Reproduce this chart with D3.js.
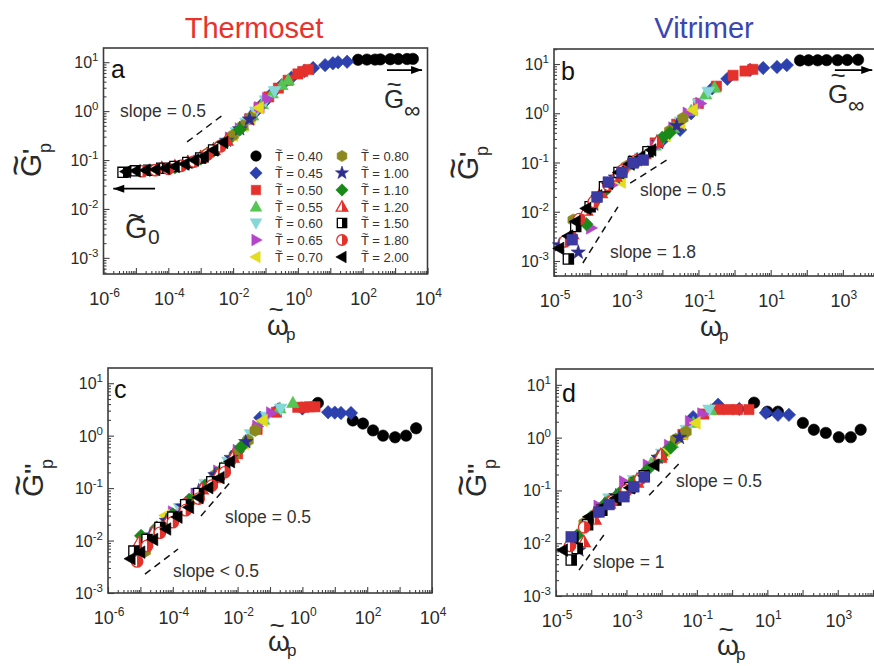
<!DOCTYPE html>
<html><head><meta charset="utf-8">
<script src="https://cdn.jsdelivr.net/npm/d3@7"></script>
<style>
body{margin:0;background:#fff}
svg{display:block}
text{font-family:"Liberation Sans",Arial,Helvetica,sans-serif}
</style>
</head><body>
<svg id="chart" width="874" height="666"></svg>
<script>
// ---------------- DATA ----------------
const temperatures = ["0.40","0.45","0.50","0.55","0.60","0.65","0.70","0.80","1.00","1.10","1.20","1.50","1.80","2.00"];
const markerShapes = ["circle","diamond","square","triUp","triDown","triRight","triLeft","hexagon","star","diamond","triUpHalf","squareHalf","circleHalf","triLeft"];
const markerColors = ["#000000","#2c41ad","#e4312b","#55c553","#85d8d8","#b444c8","#e3dc1f","#8b891d","#2e2e90","#198a1a","#e4312b","#000000","#e4312b","#000000"];

// panel a: storage modulus, thermoset  ([omega_p, G'_p] per temperature, legend order)
const storageThermoset = [
 [[72,11.2],[135,11.3],[240,11.3],[350,11.4],[710,11.5],[1260,11.6],[2340,11.6],[3550,11.7]],
 [[0.05,0.98],[0.089,1.5],[0.158,2.3],[0.316,3.4],[0.63,4.8],[1.58,6.6],[2.95,7.6],[6.9,8.7],[12,9.5],[17.4,10.0],[33,10.2]],
 [[0.032,0.68],[0.063,1.17],[0.126,1.95],[0.25,2.95],[0.5,4.27],[1.0,5.75],[1.41,6.46],[2.1,7.08]],
 [[0.02,0.5],[0.04,0.81],[0.079,1.38],[0.16,2.29],[0.32,3.39],[0.5,4.27]],
 [[0.0126,0.37],[0.025,0.58],[0.05,0.98],[0.1,1.66],[0.19,2.57]],
 [[0.0079,0.28],[0.016,0.43],[0.032,0.68],[0.063,1.17],[0.11,1.78]],
 [[0.004,0.2],[0.01,0.32],[0.02,0.5],[0.035,0.74],[0.063,1.17]],
 [[0.0016,0.135],[0.004,0.2],[0.01,0.32],[0.02,0.5],[0.035,0.74]],
 [[4e-4,0.089],[1e-3,0.112],[2.5e-3,0.162],[6.3e-3,0.25],[0.016,0.43],[0.032,0.68]],
 [[1.6e-4,0.071],[4e-4,0.085],[1e-3,0.107],[2.5e-3,0.155],[6.3e-3,0.24],[0.016,0.42]],
 [[6.3e-5,0.068],[1.6e-4,0.074],[4e-4,0.089],[1e-3,0.112],[2.5e-3,0.162],[6.3e-3,0.25]],
 [[4e-6,0.056],[1e-5,0.06],[2.5e-5,0.062],[6.3e-5,0.068],[1.6e-4,0.074],[4e-4,0.089],[1e-3,0.11],[2.5e-3,0.16]],
 [[1.6e-5,0.059],[4e-5,0.062],[1e-4,0.066],[2.5e-4,0.076],[6.3e-4,0.093],[1.6e-3,0.129],[4e-3,0.19]],
 [[5e-6,0.058],[1e-5,0.06],[2e-5,0.062],[4e-5,0.064],[8e-5,0.068],[1.6e-4,0.074],[3.2e-4,0.083],[6.3e-4,0.1],[1.26e-3,0.12],[2.5e-3,0.16],[5e-3,0.23]]
];

// panel b: storage modulus, vitrimer
const storageVitrimer = [
 [[65,11.8],[112,11.9],[200,11.9],[355,12.0],[710,12.0],[1320,12.1],[2630,12.2]],
 [[0.01,0.28],[0.031,0.46],[0.063,1.0],[0.24,3.2],[0.63,5.0],[2.7,7.6],[6.2,8.3],[15,8.7],[28,9.5]],
 [[6.3e-3,0.25],[0.025,0.6],[0.1,1.58],[0.316,3.55],[0.91,5.9],[1.95,7.2],[3.2,7.8]],
 [[2e-3,0.115],[6.3e-3,0.22],[0.02,0.5],[0.063,1.12],[0.158,2.4],[0.28,3.3]],
 [[2.5e-3,0.126],[0.01,0.3],[0.032,0.68],[0.1,1.58],[0.186,2.75]],
 [[1.05e-4,4.7e-3],[4e-4,0.035],[1.6e-3,0.1],[6.3e-3,0.21],[0.02,0.5],[0.05,1.0],[0.112,1.58]],
 [[1.26e-4,0.0151],[7.2e-4,0.04],[3.2e-3,0.126],[0.0126,0.35],[0.032,0.63],[0.071,1.17]],
 [[3.4e-5,6.8e-3],[2.5e-4,0.028],[1e-3,0.083],[4e-3,0.166],[0.016,0.44],[0.037,0.79]],
 [[1.41e-5,2.1e-3],[4.7e-5,1.5e-3],[1.26e-4,0.0141],[5e-4,0.05],[2e-3,0.112],[7.9e-3,0.25],[0.025,0.56]],
 [[7.9e-5,5.6e-3],[2.5e-4,0.026],[6.3e-4,0.056],[1.6e-3,0.1],[4e-3,0.158],[0.01,0.32],[0.016,0.4]],
 [[3.2e-5,3.5e-3],[7.9e-5,0.0105],[2e-4,0.024],[5e-4,0.052],[1.26e-3,0.1],[3.2e-3,0.148],[7.1e-3,0.26]],
 [[2.5e-5,1.1e-3],[4e-5,5e-3],[1e-4,0.0126],[2.5e-4,0.032],[6.3e-4,0.063],[1.6e-3,0.105],[4e-3,0.166]],
 [[2e-5,2.5e-3],[5e-5,7.1e-3],[1.26e-4,0.0158],[3.2e-4,0.035],[7.9e-4,0.069],[2e-3,0.112]],
 [[1.41e-5,1.8e-3],[2.5e-5,3.2e-3],[4e-5,6.3e-3],[7.9e-5,0.0117],[1.6e-4,0.021],[3.2e-4,0.038],[6.3e-4,0.063],[1.26e-3,0.093],[2.5e-3,0.13],[5e-3,0.18]]
];
const storageVitrimerExtra = [[3.2e-5,2.7e-3],[1.55e-4,0.02],[3.2e-4,0.04],[7.6e-4,0.063],[1.55e-3,0.098],[2.95e-3,0.112]];

// panel c: loss modulus, thermoset
const lossThermoset = [
 [[3.0,4.2],[36,1.95],[74,1.7],[151,1.26],[309,1.0],[724,0.93],[1585,1.0],[3236,1.38]],
 [[0.01,0.5],[0.05,2.2],[0.178,3.16],[1.0,3.3],[6.2,2.8],[10,2.75],[15.5,2.7],[31.6,2.7]],
 [[2.5e-3,0.158],[0.01,0.45],[0.04,1.32],[0.158,2.8],[0.72,3.47],[1.12,3.47],[1.66,3.55],[2.45,3.55]],
 [[5e-4,0.076],[3.2e-3,0.24],[0.016,0.76],[0.063,2.0],[0.2,3.3],[0.51,4.2]],
 [[1.6e-4,0.042],[1e-3,0.12],[5e-3,0.32],[0.025,1.07],[0.079,2.3],[0.214,3.3]],
 [[1e-4,0.035],[5e-4,0.076],[2.5e-3,0.21],[0.01,0.52],[0.04,1.5],[0.107,2.7]],
 [[5.8e-5,0.03],[2.5e-4,0.056],[1e-3,0.112],[4e-3,0.25],[0.016,0.71],[0.06,1.95]],
 [[1.41e-5,6.3e-3],[6.3e-5,0.0224],[4e-4,0.06],[2e-3,0.178],[7.9e-3,0.42],[0.021,0.81],[0.035,1.26]],
 [[2e-5,0.0126],[6.3e-5,0.024],[2e-4,0.045],[6.3e-4,0.089],[2e-3,0.178],[6.3e-3,0.38],[0.0178,0.76]],
 [[1.05e-5,0.0123],[3.2e-5,0.0178],[1e-4,0.0316],[3.2e-4,0.06],[1e-3,0.112],[3.2e-3,0.224],[0.0126,0.6]],
 [[8.9e-6,8.9e-3],[2.5e-5,0.0141],[7.9e-5,0.026],[2.5e-4,0.05],[7.9e-4,0.095],[2.5e-3,0.178],[7.1e-3,0.38]],
 [[6.3e-6,6.3e-3],[1.6e-5,0.0105],[4e-5,0.0178],[1e-4,0.028],[2.5e-4,0.048],[6.3e-4,0.079],[1.6e-3,0.132],[4e-3,0.24]],
 [[7.9e-6,4e-3],[1.6e-5,7.9e-3],[4e-5,0.0141],[1e-4,0.0224],[2.5e-4,0.038],[6.3e-4,0.063],[1.6e-3,0.112],[4e-3,0.2]],
 [[5e-6,4.5e-3],[1e-5,6e-3],[2.5e-5,0.0105],[6.3e-5,0.0166],[1.41e-4,0.028],[3.2e-4,0.043],[6.3e-4,0.066],[1.26e-3,0.102],[2.8e-3,0.158],[5.9e-3,0.32]]
];

// panel d: loss modulus, vitrimer
const lossVitrimer = [
 [[4.2,4.6],[10,3.1],[20,3.1],[102,1.9],[209,1.41],[457,1.23],[1070,1.02],[2340,1.02],[4470,1.41]],
 [[0.016,0.63],[0.078,2.45],[0.4,4.2],[1.6,3.5],[9.1,2.95],[20,2.7],[41,2.7]],
 [[2e-3,0.15],[0.01,0.42],[0.04,1.15],[0.158,2.8],[0.42,3.4],[0.79,3.4],[1.41,3.4],[3.0,3.4]],
 [[2.5e-4,0.06],[1.26e-3,0.132],[5e-3,0.32],[0.02,0.79],[0.079,1.9],[0.25,3.3]],
 [[3.2e-4,0.071],[1.6e-3,0.158],[0.01,0.5],[0.05,1.41],[0.22,3.4]],
 [[1.6e-4,0.05],[8.5e-4,0.145],[4e-3,0.3],[0.016,0.71],[0.063,2.0],[0.141,2.8]],
 [[1e-4,0.033],[5e-4,0.079],[2.5e-3,0.19],[0.0126,0.56],[0.04,1.17],[0.093,1.9]],
 [[6.3e-5,0.024],[3.2e-4,0.063],[1.6e-3,0.148],[7.9e-3,0.4],[0.025,0.93],[0.049,1.29]],
 [[4.5e-5,7.4e-3],[1.26e-4,0.0316],[5e-4,0.079],[2e-3,0.158],[7.9e-3,0.42],[0.032,1.0]],
 [[4e-5,0.0141],[1e-4,0.0316],[2.5e-4,0.056],[6.3e-4,0.089],[1.6e-3,0.141],[4e-3,0.25],[0.01,0.47],[0.018,0.65]],
 [[3.2e-5,8.9e-3],[6.2e-5,0.0105],[1.26e-4,0.028],[3.2e-4,0.056],[7.9e-4,0.089],[2e-3,0.141],[9.5e-3,0.47]],
 [[2.7e-5,4.8e-3],[4e-5,7.9e-3],[7.9e-5,0.0224],[2e-4,0.042],[5e-4,0.066],[1.26e-3,0.112],[3.2e-3,0.19]],
 [[2.5e-5,8.9e-3],[6.3e-5,0.02],[1.6e-4,0.04],[4e-4,0.063],[1e-3,0.1],[2.5e-3,0.166]],
 [[1.58e-5,7.4e-3],[3.2e-5,0.0126],[8.7e-5,0.0316],[2e-4,0.047],[5e-4,0.071],[1.26e-3,0.112],[3.2e-3,0.19],[6.3e-3,0.3]]
];
const lossVitrimerExtra = [[2.7e-5,0.0132],[1.66e-4,0.039],[3.2e-4,0.054],[8.5e-4,0.076],[1.62e-3,0.117],[3.2e-3,0.18]];

// guide lines (data coordinates) and labels
const slopeLinesA = [[[3.8e-4,0.234],[5.6e-3,0.9]]];
const slopeLinesB = [[[1.29e-3,0.038],[1.62e-2,0.123]],[[6.3e-5,9.1e-4],[5.9e-4,0.0126]]];
const slopeLinesC = [[[7.4e-4,0.0295],[5.9e-3,0.129]],[[1.38e-5,2.3e-3],[1.45e-4,6.9e-3]]];
const slopeLinesD = [[[4.4e-3,0.081],[3.5e-2,0.35]],[[4.5e-5,3.1e-3],[2.6e-4,0.0162]]];
const arrowsA = [[[3.9e-5,0.026],[2.0e-6,0.026]],[[560,6.9],[6800,6.9]]];
const arrowsB = [[[600,7.55],[6500,7.55]]];
const xTickExpThermoset = [-6,-4,-2,0,2,4];
const xTickExpVitrimer = [-5,-3,-1,1,3];
const yTickExp = [-3,-2,-1,0,1];

// ---------------- DRAWING ----------------
const svg = d3.select("#chart");
const DARK = "#2a2a2a";

function shapePath(type, k) {
  switch (type) {
    case "circle": case "circleHalf": { const r = 5.7*k; return `M${r},0A${r},${r} 0 1,1 ${-r},0A${r},${r} 0 1,1 ${r},0Z`; }
    case "square": case "squareHalf": { const h = 5.1*k; return `M${-h},${-h}H${h}V${h}H${-h}Z`; }
    case "diamond": { const h = 6.7*k; return `M0,${-h}L${h},0L0,${h}L${-h},0Z`; }
    case "triUp": case "triUpHalf": return `M0,${-6.7*k}L${6.3*k},${4.5*k}L${-6.3*k},${4.5*k}Z`;
    case "triDown": return `M0,${6.7*k}L${6.3*k},${-4.5*k}L${-6.3*k},${-4.5*k}Z`;
    case "triRight": return `M${6.7*k},0L${-4.5*k},${6.3*k}L${-4.5*k},${-6.3*k}Z`;
    case "triLeft": return `M${-6.7*k},0L${4.5*k},${6.3*k}L${4.5*k},${-6.3*k}Z`;
    case "hexagon": {
      const r = 6.1*k; let p = [];
      for (let i = 0; i < 6; i++) { const a = (-90 + 60*i) * Math.PI/180; p.push([r*Math.cos(a), r*Math.sin(a)]); }
      return "M" + p.map(q => q[0].toFixed(2)+","+q[1].toFixed(2)).join("L") + "Z";
    }
    case "star": {
      const ro = 7.5*k, ri = 3.0*k; let p = [];
      for (let i = 0; i < 10; i++) { const a = (-90 + 36*i) * Math.PI/180; const r = i%2 ? ri : ro; p.push([r*Math.cos(a), r*Math.sin(a)]); }
      return "M" + p.map(q => q[0].toFixed(2)+","+q[1].toFixed(2)).join("L") + "Z";
    }
  }
}
function halfPath(type, k) {
  if (type === "triUpHalf") return `M0,${-6.7*k}L${6.3*k},${4.5*k}L0,${4.5*k}Z`;
  if (type === "squareHalf") { const h = 5.1*k; return `M0,${-h}H${h}V${h}H0Z`; }
  if (type === "circleHalf") { const r = 5.7*k; return `M0,${-r}A${r},${r} 0 0,1 0,${r}Z`; }
  return null;
}
function drawMarker(g, x, y, type, color, k) {
  const isHalf = type.endsWith("Half");
  const m = g.append("g").attr("transform", `translate(${x},${y})`);
  m.append("path").attr("d", shapePath(type, k))
    .attr("fill", isHalf ? "#fff" : color)
    .attr("stroke", color).attr("stroke-width", isHalf ? 1.3 : 0.6);
  if (isHalf) m.append("path").attr("d", halfPath(type, k)).attr("fill", color);
}

function tildeText(g, x, y, ch, size, tildeSize, tildeDy, tildeDx) {
  g.append("text").attr("x", x).attr("y", y).attr("font-size", size).attr("fill", DARK).text(ch);
  g.append("text").attr("x", x + tildeDx).attr("y", y + tildeDy).attr("font-size", tildeSize)
    .attr("text-anchor", "middle").attr("fill", DARK).text("~");
}

function arrowHead(g, x1, y1, x2, y2) {
  const a = Math.atan2(y2 - y1, x2 - x1), L = 11, W = 4;
  const bx = x2 - L*Math.cos(a), by = y2 - L*Math.sin(a);
  const px = -Math.sin(a)*W, py = Math.cos(a)*W;
  g.append("path").attr("d", `M${x2},${y2}L${bx+px},${by+py}L${bx-px},${by-py}Z`).attr("fill", "#000");
}

const panels = [
  {key:"a", data:storageThermoset, extra:null, f:{l:103.5,r:427.5,t:48,b:274}, frameR:427.5, xExp:[-6,4], yExp:[-3.33,1.29],
   xLabels:xTickExpThermoset, slopes:slopeLinesA, arrows:arrowsA, primes:"'",
   slopeTexts:[["slope = 0.5",120,117]], letterPos:[111,78],
   yTitle:[41,177], xTitle:[267,335]},
  {key:"b", data:storageVitrimer, extra:storageVitrimerExtra, f:{l:554,r:879,t:49,b:276}, frameR:884, xExp:[-5,4], yExp:[-3.305,1.305],
   xLabels:xTickExpVitrimer, slopes:slopeLinesB, arrows:arrowsB, primes:"'",
   slopeTexts:[["slope = 0.5",640,196],["slope = 1.8",610,258]], letterPos:[561,80],
   yTitle:[478,180], xTitle:[700,336]},
  {key:"c", data:lossThermoset, extra:null, f:{l:108,r:432,t:368,b:593}, frameR:432, xExp:[-6,4], yExp:[-3,1.29],
   xLabels:xTickExpThermoset, slopes:slopeLinesC, arrows:[], primes:"''",
   slopeTexts:[["slope = 0.5",225,523],["slope < 0.5",173,577]], letterPos:[114,398],
   yTitle:[43,497], xTitle:[268,651]},
  {key:"d", data:lossVitrimer, extra:lossVitrimerExtra, f:{l:556,r:873,t:369,b:596}, frameR:880, xExp:[-5,4], yExp:[-3,1.30],
   xLabels:xTickExpVitrimer, slopes:slopeLinesD, arrows:[], primes:"''",
   slopeTexts:[["slope = 0.5",676,487],["slope = 1",593,568]], letterPos:[562,402],
   yTitle:[486,497], xTitle:[717,655]}
];

panels.forEach(P => {
  const f = P.f;
  const x = d3.scaleLog().domain([Math.pow(10, P.xExp[0]), Math.pow(10, P.xExp[1])]).range([f.l, f.r]);
  const y = d3.scaleLog().domain([Math.pow(10, P.yExp[0]), Math.pow(10, P.yExp[1])]).range([f.b, f.t]);
  const g = svg.append("g");

  // minor/major ticks (inward)
  const xMaj = [], xMin = [];
  for (let e = Math.ceil(P.xExp[0]); e <= P.xExp[1]; e++) {
    xMaj.push(Math.pow(10, e));
    for (let m = 2; m <= 9; m++) { const v = m*Math.pow(10, e); if (v < Math.pow(10, P.xExp[1])) xMin.push(v); }
  }
  const yMaj = [], yMin = [];
  for (let e = Math.floor(P.yExp[0]); e <= P.yExp[1]; e++) {
    const v0 = Math.pow(10, e);
    if (v0 >= Math.pow(10, P.yExp[0]) - 1e-12) yMaj.push(v0);
    for (let m = 2; m <= 9; m++) { const v = m*v0; if (v > Math.pow(10, P.yExp[0]) && v < Math.pow(10, P.yExp[1])) yMin.push(v); }
  }
  const xa = g.append("g").attr("transform", `translate(0,${f.b})`);
  xa.call(d3.axisBottom(x).tickValues(xMaj).tickSizeInner(-6).tickSizeOuter(0).tickFormat(""));
  xa.append("g").call(d3.axisBottom(x).tickValues(xMin).tickSizeInner(-3).tickSizeOuter(0).tickFormat(""));
  const ya = g.append("g").attr("transform", `translate(${f.l},0)`);
  ya.call(d3.axisLeft(y).tickValues(yMaj).tickSizeInner(-6).tickSizeOuter(0).tickFormat(""));
  ya.append("g").call(d3.axisLeft(y).tickValues(yMin).tickSizeInner(-3).tickSizeOuter(0).tickFormat(""));
  g.selectAll(".domain").remove();
  g.selectAll(".tick line").attr("stroke", "#444").attr("stroke-width", 1.1);

  // frame
  g.append("rect").attr("x", f.l).attr("y", f.t).attr("width", P.frameR - f.l).attr("height", f.b - f.t)
    .attr("fill", "none").attr("stroke", "#3c3c3c").attr("stroke-width", 1.6);

  // x tick labels
  P.xLabels.forEach(e => {
    const t = g.append("text").attr("x", x(Math.pow(10, e)) + 1).attr("y", f.b + 31)
      .attr("text-anchor", "middle").attr("font-size", 18).attr("fill", DARK);
    t.append("tspan").text("10");
    t.append("tspan").attr("dy", -8).attr("font-size", 12).text(e);
  });
  // y tick labels
  yTickExp.forEach(e => {
    const t = g.append("text").attr("x", f.l - 5).attr("y", y(Math.pow(10, e)) + 6)
      .attr("text-anchor", "end").attr("font-size", 16).attr("fill", DARK);
    t.append("tspan").text("10");
    t.append("tspan").attr("dy", -7).attr("font-size", 11.5).text(e);
  });

  // data markers
  const pts = g.append("g");
  P.data.forEach((series, i) => {
    series.forEach(d => drawMarker(pts, x(d[0]), y(d[1]), markerShapes[i], markerColors[i], 1));
  });
  if (P.extra) P.extra.forEach(d => drawMarker(pts, x(d[0]), y(d[1]), "square", "#3a3aa2", 1.05));

  // slope guide lines
  P.slopes.forEach(L => {
    g.append("line").attr("x1", x(L[0][0])).attr("y1", y(L[0][1])).attr("x2", x(L[1][0])).attr("y2", y(L[1][1]))
      .attr("stroke", "#111").attr("stroke-width", 1.5).attr("stroke-dasharray", "7,5");
  });
  P.slopeTexts.forEach(s => g.append("text").attr("x", s[1]).attr("y", s[2]).attr("font-size", 17.5).attr("fill", "#333").text(s[0]));

  // arrows
  P.arrows.forEach(A => {
    const x1 = x(A[0][0]), y1 = y(A[0][1]), x2 = x(A[1][0]), y2 = y(A[1][1]);
    g.append("line").attr("x1", x1).attr("y1", y1).attr("x2", x2).attr("y2", y2).attr("stroke", "#000").attr("stroke-width", 1.8);
    arrowHead(g, x1, y1, x2, y2);
  });

  // panel letter
  g.append("text").attr("x", P.letterPos[0]).attr("y", P.letterPos[1]).attr("font-size", 25).attr("fill", "#111").text(P.key);

  // y title (rotated G~ with prime(s) and subscript p)
  const yt = g.append("g").attr("transform", `translate(${P.yTitle[0]},${P.yTitle[1]}) rotate(-90)`);
  tildeText(yt, 0, 0, "G", 30, 36, -13, 11.5);
  yt.append("text").attr("x", 23).attr("y", -3).attr("font-size", 22).attr("font-weight", "bold").attr("fill", DARK).text(P.primes);
  yt.append("text").attr("x", P.primes.length > 1 ? 28 : 24).attr("y", 10).attr("font-size", 18).attr("fill", DARK).text("p");

  // x title (omega~ with subscript p)
  const xt = g.append("g");
  tildeText(xt, P.xTitle[0], P.xTitle[1], "\u03c9", 28, 26, -17, 9);
  xt.append("text").attr("x", P.xTitle[0] + 19).attr("y", P.xTitle[1] + 5).attr("font-size", 17).attr("fill", DARK).text("p");
});

// G~0 and G~inf annotations
const ann = svg.append("g");
tildeText(ann, 125, 238, "G", 29, 28, -12, 11);
ann.append("text").attr("x", 148).attr("y", 244).attr("font-size", 21).attr("fill", DARK).text("0");
tildeText(ann, 384, 108, "G", 26, 26, -15, 10);
ann.append("text").attr("x", 404).attr("y", 118).attr("font-size", 23).attr("fill", DARK).text("\u221e");
tildeText(ann, 828, 103, "G", 26, 26, -19, 10);
ann.append("text").attr("x", 848).attr("y", 113).attr("font-size", 23).attr("fill", DARK).text("\u221e");

// titles
svg.append("text").attr("x", 254).attr("y", 38).attr("text-anchor", "middle").attr("font-size", 29).attr("fill", "#e8322b").text("Thermoset");
svg.append("text").attr("x", 704).attr("y", 38).attr("text-anchor", "middle").attr("font-size", 29).attr("fill", "#3b46b2").text("Vitrimer");

// legend (panel a)
const leg = svg.append("g");
const rowY = [156, 173, 190, 207, 223, 240, 257];
temperatures.forEach((t, i) => {
  const col = i < 7 ? 0 : 1, row = i % 7;
  const mx = col ? 342 : 256, tx = col ? 361 : 275, yy = rowY[row];
  drawMarker(leg, mx, yy, markerShapes[i], markerColors[i], 0.92);
  leg.append("text").attr("x", tx).attr("y", yy + 4.6).attr("font-size", 13).attr("fill", "#333").text("T = " + t);
  leg.append("text").attr("x", tx + 4).attr("y", yy - 2.5).attr("font-size", 11).attr("text-anchor", "middle").attr("fill", "#333").text("~");
});
</script>
</body></html>
